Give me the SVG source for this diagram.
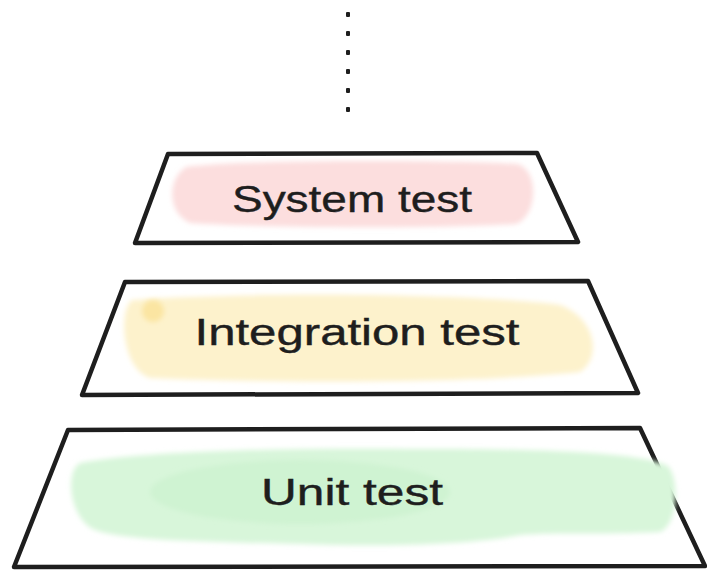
<svg xmlns="http://www.w3.org/2000/svg" width="707" height="571" viewBox="0 0 707 571">
  <defs>
    <filter id="soft" filterUnits="userSpaceOnUse" x="0" y="0" width="707" height="571">
      <feGaussianBlur stdDeviation="2.5"/>
    </filter>
    <style>
      .frame { fill: #ffffff; stroke: #1e1e1e; stroke-width: 4.5; stroke-linejoin: round; stroke-linecap: round; }
      .label { font-family: "Liberation Sans", "DejaVu Sans", sans-serif; font-size: 36px; fill: #1e1e1e; stroke: #1e1e1e; stroke-width: 0.4; text-anchor: middle; }
      .dot { fill: #1e1e1e; }
    </style>
  </defs>

  <rect width="707" height="571" fill="#ffffff"/>

  <!-- dotted continuation above the pyramid -->
  <g id="ellipsis">
    <rect class="dot" x="346" y="12" width="4" height="5" rx="1"/>
    <rect class="dot" x="346" y="31" width="4" height="5" rx="1"/>
    <rect class="dot" x="346" y="50" width="4" height="5" rx="1"/>
    <rect class="dot" x="346" y="69" width="4" height="5" rx="1"/>
    <rect class="dot" x="346" y="88" width="4" height="5" rx="1"/>
    <rect class="dot" x="346" y="107" width="4" height="5" rx="1"/>
  </g>

  <!-- top tier -->
  <g id="system-test">
    <path class="frame" d="M168 154 L537 153 L578 242 L135 243 Z"/>
    <path filter="url(#soft)" fill="#fcdede" d="M186 167 C250 159 460 160 518 164 C540 172 537 216 516 224 C430 229 262 228 190 223 C168 214 166 180 186 167 Z"/>
    <text class="label" x="352" y="212" textLength="240" lengthAdjust="spacingAndGlyphs">System test</text>
  </g>

  <!-- middle tier -->
  <g id="integration-test">
    <path class="frame" d="M125 282 L588 281 L638 393 L82 395 Z"/>
    <path filter="url(#soft)" fill="#fdf2cc" d="M132 300 C240 292 470 293 560 305 C596 318 602 358 580 372 C470 384 260 383 150 378 C122 370 118 310 132 300 Z"/>
    <circle cx="153" cy="311" r="11" fill="#fbe5a2" filter="url(#soft)"/>
    <text class="label" x="357" y="345" textLength="325" lengthAdjust="spacingAndGlyphs">Integration test</text>
  </g>

  <!-- bottom tier -->
  <g id="unit-test">
    <path class="frame" d="M68 430 L640 428 L705 566 L14 567 Z"/>
    <path filter="url(#soft)" fill="#d8f6da" d="M80 463 C150 450 300 448 420 449 C540 449 640 452 668 466 C680 480 678 525 660 532 C600 535 560 532 520 535 C470 545 380 547 300 544 C200 542 120 540 95 530 C70 520 64 472 80 463 Z"/>
    <ellipse cx="300" cy="492" rx="150" ry="32" fill="#cff3d2" filter="url(#soft)"/>
    <text class="label" x="352" y="505" textLength="182" lengthAdjust="spacingAndGlyphs">Unit test</text>
  </g>
</svg>
